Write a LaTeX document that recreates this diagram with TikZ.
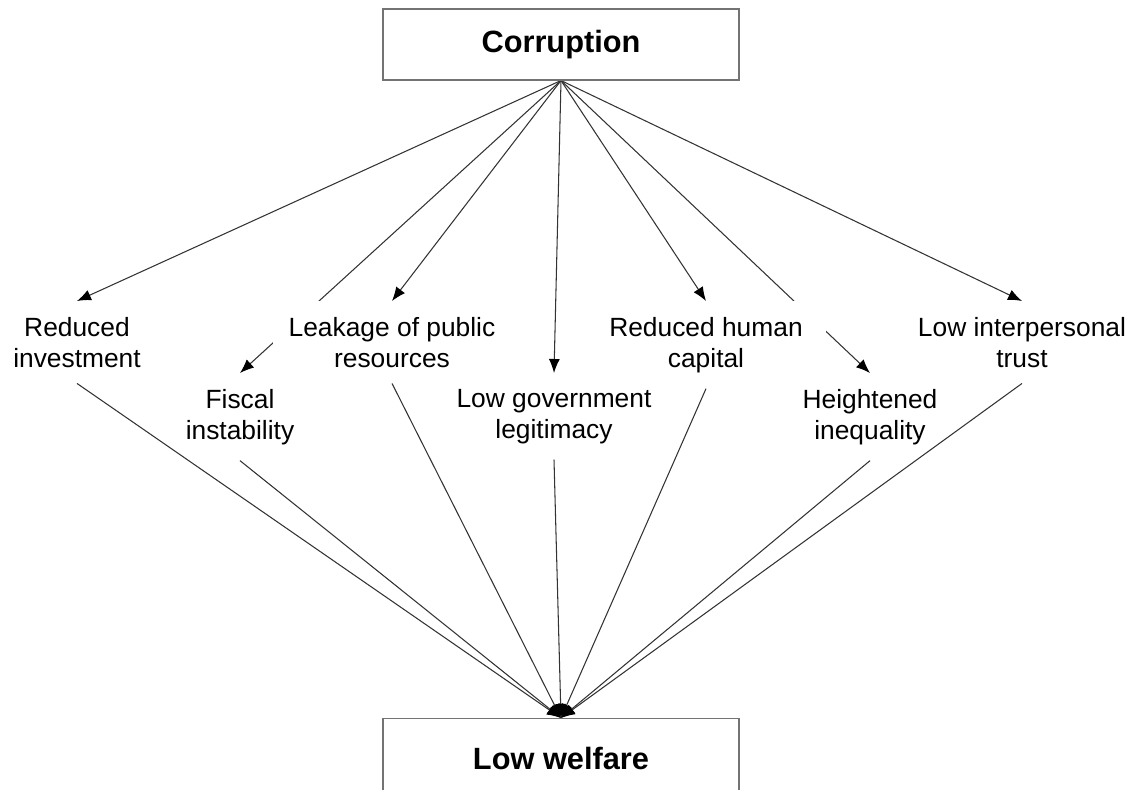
\documentclass[tikz,border=0pt]{standalone}
\usepackage{fontspec}
\setmainfont{Liberation Sans}
\usetikzlibrary{arrows.meta,backgrounds}
\begin{document}
\begin{tikzpicture}[
    box/.style={draw=black!55, line width=0.6pt, minimum width=7.12cm, minimum height=1.42cm,
      font=\fontsize{17.5}{20}\selectfont\bfseries},
    effect/.style={align=center, inner sep=9pt, anchor=north,
      font=\fontsize{15}{17.5}\selectfont},
    link/.style={draw=black!80, line width=0.6pt, -{Latex[length=2.8mm,width=2.2mm,black]}}]
  \useasboundingbox (0,0) rectangle (22.74,15.78);
  \node[box] (corr) at (11.22,14.89) {Corruption};
  \node[box, anchor=north, minimum height=1.6cm] (welf) at (11.22,1.42) {Low welfare};
  \node[effect] (inv) at (1.54,9.76) {Reduced\\investment};
  \node[effect] (fisc) at (4.80,8.32) {Fiscal\\instability};
  \node[effect, fill=white] (leak) at (7.84,9.76) {Leakage of public\\resources};
  \node[effect] (legit) at (11.08,8.32) {Low government\\legitimacy};
  \node[effect, fill=white, inner xsep=13pt] (human) at (14.12,9.76) {Reduced human\\capital};
  \node[effect] (ineq) at (17.40,8.32) {Heightened\\inequality};
  \node[effect] (trust) at (20.44,9.76) {Low interpersonal\\trust};
  \begin{pgfonlayer}{background}
    \begin{scope}[link]
      \draw (corr.south) to (inv.north);
      \draw (corr.south) to (fisc.north);
      \draw (corr.south) to (leak.north);
      \draw (corr.south) to (legit.north);
      \draw (corr.south) to (human.north);
      \draw (corr.south) to (ineq.north);
      \draw (corr.south) to (trust.north);
      \draw (inv.south) to (welf.north);
      \draw (fisc.south) to (welf.north);
      \draw (leak.south) to (welf.north);
      \draw (legit.south) to (welf.north);
      \draw (human.south) to (welf.north);
      \draw (ineq.south) to (welf.north);
      \draw (trust.south) to (welf.north);
    \end{scope}
  \end{pgfonlayer}
\end{tikzpicture}
\end{document}
